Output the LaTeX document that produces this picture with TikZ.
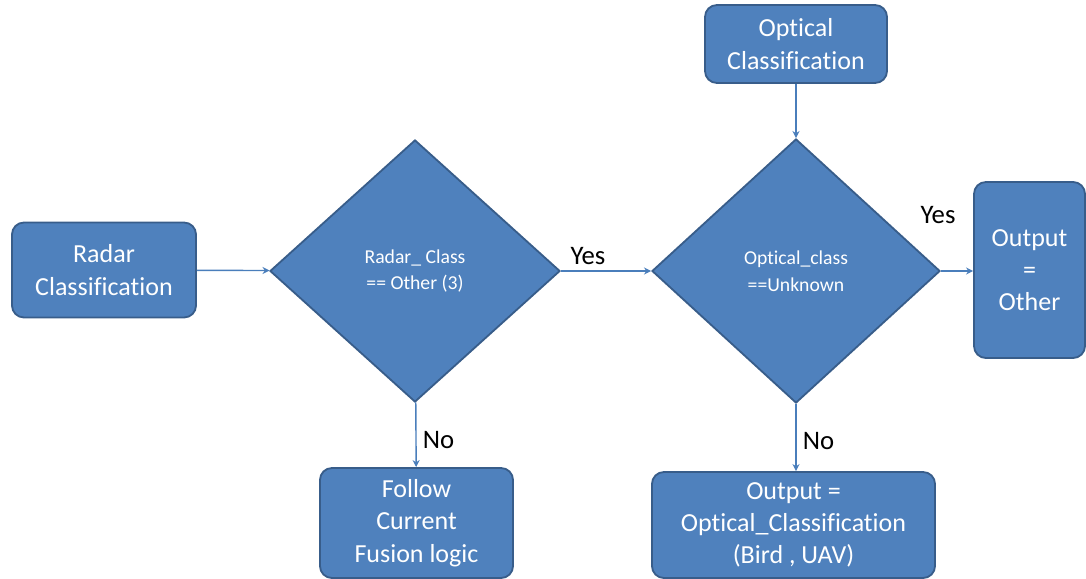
\documentclass[tikz,border=0pt]{standalone}
\usepackage{fontspec}
\setmainfont{Carlito}[Ligatures=NoCommon]
\usetikzlibrary{shapes.geometric,arrows.meta}
\definecolor{boxfill}{HTML}{4F81BD}
\definecolor{boxedge}{HTML}{385D8A}
\definecolor{flowline}{HTML}{4A7EBB}

\begin{document}
\begin{tikzpicture}[
    x=0.025cm, y=-0.025cm,
    procbox/.style={rectangle, rounded corners=0.3cm, fill=boxfill, draw=boxedge,
      line width=1.3pt, text=white, align=center, inner sep=0pt,
      font=\fontsize{18.5}{23}\selectfont},
    decision/.style={diamond, fill=boxfill, draw=boxedge, line width=1.3pt,
      text=white, align=center, inner sep=0pt, font=\fontsize{14}{19}\selectfont},
    flow/.style={draw=flowline, line width=1pt, -{Stealth[length=5pt,width=5pt]}},
    lbl/.style={font=\fontsize{19}{23}\selectfont, text=black},
  ]
  \useasboundingbox (0,0) rectangle (1086,579);

  % ---- inputs
  \node[procbox, minimum width=4.6cm, minimum height=2.375cm] (radar) at (104,270)
    {Radar\\Classification};
  \node[procbox, minimum width=4.55cm, minimum height=1.95cm] (optical) at (796,44)
    {Optical\\Classification};

  % ---- the two tests
  \node[decision, minimum width=7.25cm, minimum height=6.55cm] (radartest) at (415,271)
    {Radar\_ Class\\== Other (3)};
  \node[decision, minimum width=7.2cm, minimum height=6.6cm] (opttest) at (796,271)
    {Optical\_class\\==Unknown};

  % ---- outcomes
  \node[procbox, minimum width=2.775cm, minimum height=4.4cm] (other) at (1029.5,270)
    {Output\\=\\Other};
  \node[procbox, minimum width=4.825cm, minimum height=2.75cm] (fusion) at (416.5,523)
    {Follow\\Current\\Fusion logic};
  \node[procbox, minimum width=7.075cm, minimum height=2.65cm] (optout) at (793.5,525)
    {Output =\\Optical\_Classification\\(Bird , UAV)};

  % ---- flow
  \draw[flow] (radar) -- (radartest);
  \draw[flow] (radartest) -- (opttest) node[lbl, pos=0.3, above=1pt] {Yes};
  \draw[flow] (optical) -- (opttest);
  \draw[flow] (opttest.east) -- (other.west |- opttest.east);
  \node[lbl] (yesout) at (938,215) {Yes};
  \draw[flow] (radartest) -- (fusion) node[lbl, pos=0.58, right=1pt] {No};
  \draw[flow] (opttest) -- (optout.north -| opttest.south) node[lbl, pos=0.55, right=1pt] {No};

\end{tikzpicture}
\end{document}
